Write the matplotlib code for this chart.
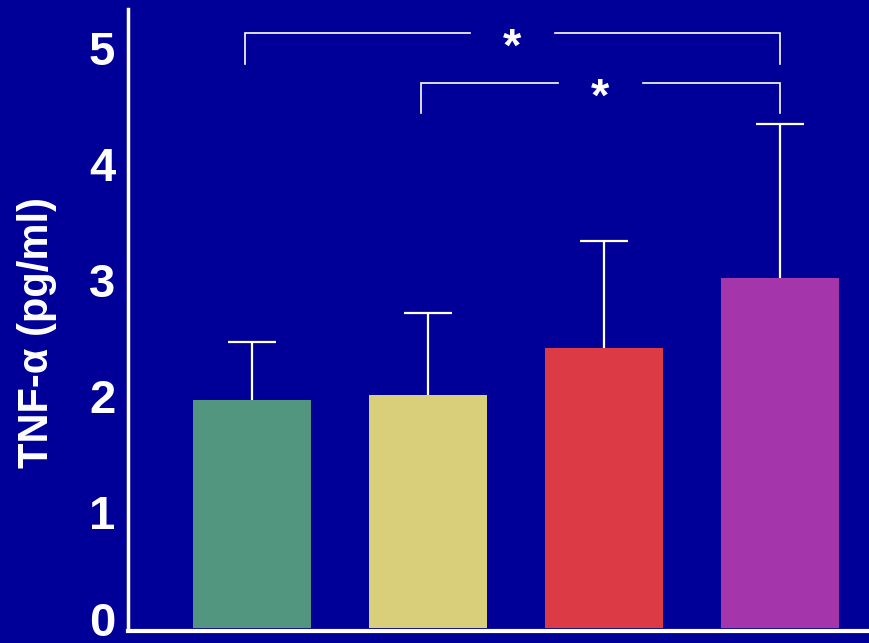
import matplotlib
matplotlib.use('Agg')
import matplotlib.pyplot as plt
import matplotlib.transforms as mtransforms
import numpy as np

plt.rcParams['font.family'] = ['Liberation Sans', 'DejaVu Sans']

# ── Data ───────────────────────────────────────────────────────────────
groups = ['G1', 'G2', 'G3', 'G4']
means = [1.97, 2.01, 2.42, 3.02]
sd_upper = [0.50, 0.71, 0.92, 1.33]
bar_colors = ['#52967F', '#D9CF7A', '#DC3A45', '#A535AA']
# significance brackets: (left bar, right bar, label)
sig_pairs = [(0, 3, '*'), (1, 3, '*')]
sig_levels = [5.13, 4.70]

BG = '#000099'
FG = 'white'

fig = plt.figure(figsize=(8.69, 6.43), dpi=100, facecolor=BG)
ax = fig.add_axes([0.147, 0.023, 0.853, 0.963], facecolor=BG)

x = np.arange(len(groups))
ax.bar(x, means, width=0.67, color=bar_colors, zorder=3)
eb = ax.errorbar(x, means, yerr=[np.zeros(len(means)), sd_upper], fmt='none',
                 ecolor=FG, elinewidth=1.6, capsize=17, capthick=1.6, zorder=1)
# only upper caps (one-sided SD)
eb[1][0].set_visible(False)

# significance brackets
leg = 0.26
gap = 0.24
for (i, j, lab), lvl in zip(sig_pairs, sig_levels):
    xl, xr = x[i] - 0.04, x[j]
    mid = (xl + xr) / 2
    ax.plot([xl, xl, mid - gap], [lvl - leg, lvl, lvl], color=FG, lw=1.2,
            solid_joinstyle='miter', clip_on=False)
    ax.plot([mid + gap, xr, xr], [lvl, lvl, lvl - leg], color=FG, lw=1.2,
            solid_joinstyle='miter', clip_on=False)
    ax.text(mid, lvl - 0.13, lab, ha='center', va='center', color=FG,
            fontsize=34, fontweight='bold')

ax.set_xlim(-0.705, 3.506)
ax.set_ylim(0, 5.34)
ax.set_xticks([])
ax.set_yticks([0, 1, 2, 3, 4, 5])
ax.tick_params(axis='y', length=0, pad=9, labelsize=34, labelcolor=FG)
for t in ax.get_yticklabels():
    t.set_fontweight('bold')
# nudge the "0" up a little so it stays inside the figure
zero_lbl = ax.get_yticklabels()[0]
zero_lbl.set_transform(zero_lbl.get_transform() +
                       mtransforms.ScaledTranslation(0, 9 / 100, fig.dpi_scale_trans))

ax.set_ylabel('TNF-α (pg/ml)', color=FG, fontsize=30, fontweight='bold')
ax.yaxis.set_label_coords(-0.096, 0.477)

for s in ['top', 'right']:
    ax.spines[s].set_visible(False)
ax.spines['left'].set_color(FG)
ax.spines['left'].set_linewidth(2.5)
ax.spines['bottom'].set_color(FG)
ax.spines['bottom'].set_linewidth(3)
ax.spines['bottom'].set_position(('outward', 2))

fig.savefig('out.png', dpi=100, facecolor=BG)
